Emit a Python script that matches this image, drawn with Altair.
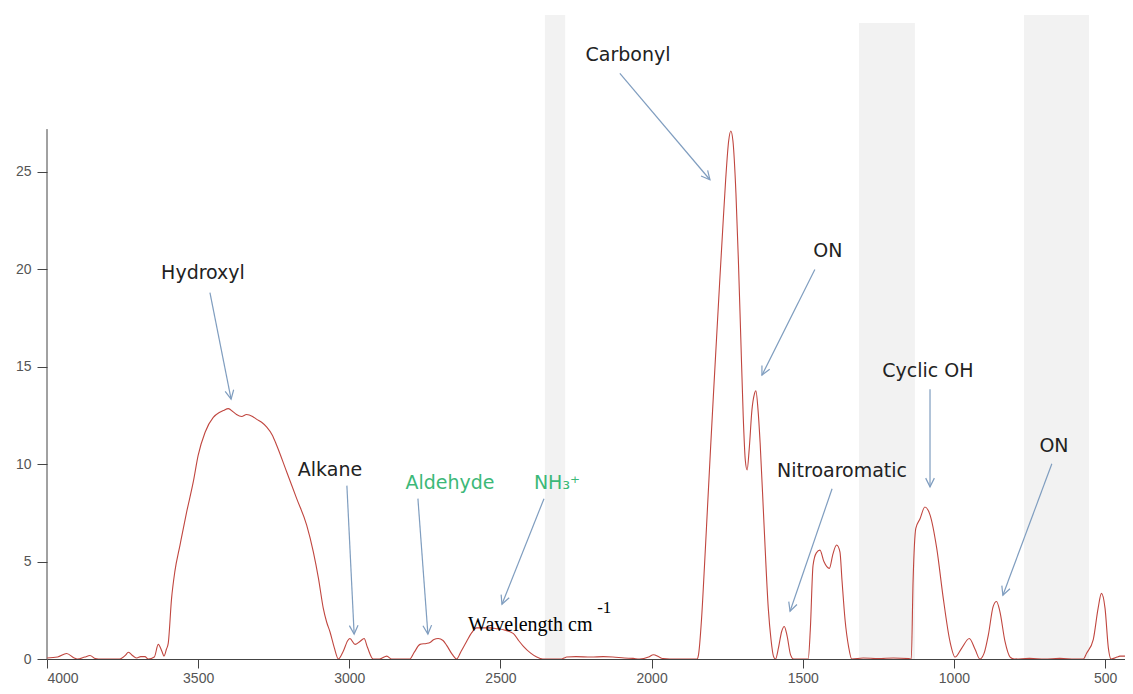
import math
import altair as alt
import pandas as pd

# ---------------- data ----------------
wavenumber = [
    4000, 3965, 3935, 3910, 3900, 3875, 3858, 3840, 3830, 3760, 3740, 3731, 3715, 3703,
    3690, 3676, 3665, 3645, 3632, 3620, 3613, 3605, 3599, 3588, 3577, 3560, 3538, 3516,
    3500, 3477, 3450, 3430, 3417, 3400, 3385, 3373, 3356, 3340, 3320, 3306, 3290, 3273,
    3255, 3240, 3207, 3174, 3141, 3119, 3102, 3086, 3075, 3064, 3050, 3036, 3020, 3005,
    2998, 2981, 2965, 2951, 2940, 2921, 2900, 2876, 2860, 2800, 2785, 2766, 2745, 2733,
    2720, 2706, 2690, 2678, 2660, 2645, 2630, 2612, 2595, 2579, 2555, 2534, 2510, 2490,
    2457, 2440, 2424, 2400, 2380, 2360, 2300, 2290, 2281, 2250, 2200, 2160, 2128, 2090,
    2061, 2040, 2010, 1994, 1975, 1962, 1940, 1850, 1845, 1835, 1825, 1815, 1805, 1795,
    1785, 1775, 1765, 1755, 1745, 1738, 1731, 1721, 1713, 1705, 1697, 1690, 1684, 1677,
    1668, 1660, 1655, 1648, 1641, 1628, 1614, 1605, 1597, 1590, 1580, 1570, 1561, 1552,
    1540, 1530, 1482, 1475, 1466, 1455, 1443, 1430, 1412, 1400, 1388, 1377, 1370, 1360,
    1348, 1338, 1300, 1250, 1200, 1150, 1141, 1135, 1126, 1112, 1096, 1079, 1057, 1035,
    1013, 996, 974, 949, 930, 914, 900, 886, 870, 859, 848, 831, 814, 800, 750, 700,
    650, 600, 572, 561, 539, 523, 512, 500, 489, 480, 460, 451, 430,
]
absorbance = [
    0.05, 0.1, 0.28, 0.05, 0.0, 0.1, 0.18, 0.02, 0.0, 0.0, 0.2, 0.35, 0.15, 0.05,
    0.12, 0.12, 0.0, 0.1, 0.75, 0.4, 0.15, 0.5, 0.8, 3.1, 4.5, 5.85, 7.55, 9.1,
    10.45, 11.64, 12.4, 12.65, 12.75, 12.85, 12.7, 12.55, 12.45, 12.55, 12.45, 12.3, 12.15, 11.9,
    11.5, 10.96, 9.6, 8.23, 6.87, 5.5, 4.14, 2.6, 1.9, 1.4, 0.6, 0.0, 0.4, 0.95,
    1.05, 0.75, 0.9, 1.05, 0.6, 0.0, 0.0, 0.15, 0.0, 0.0, 0.35, 0.75, 0.8, 0.85,
    1.0, 1.05, 0.95, 0.7, 0.25, 0.0, 0.4, 0.9, 1.35, 1.6, 1.6, 1.6, 1.55, 1.5,
    1.3, 0.95, 0.65, 0.3, 0.1, 0.0, 0.0, 0.05, 0.1, 0.12, 0.1, 0.12, 0.1, 0.05,
    0.03, 0.0, 0.1, 0.22, 0.1, 0.02, 0.0, 0.0, 0.2, 2.0, 4.8, 7.8, 10.8, 13.7,
    16.5, 19.3, 22.0, 24.6, 26.6, 27.1, 26.6, 23.9, 20.5, 16.5, 12.5, 10.2, 9.7, 10.8,
    12.8, 13.6, 13.77, 12.8, 11.1, 6.87, 2.6, 1.0, 0.15, 0.0, 0.6, 1.4, 1.67, 1.2,
    0.2, 0.0, 0.0, 1.5, 4.8, 5.45, 5.59, 5.0, 4.65, 5.4, 5.85, 5.5, 4.0, 2.0,
    0.6, 0.0, 0.05, 0.02, 0.05, 0.02, 0.0, 4.0, 6.7, 7.2, 7.8, 7.4, 5.7, 3.1,
    0.9, 0.1, 0.56, 1.05, 0.5, 0.0, 0.3, 1.24, 2.7, 2.95, 2.45, 0.9, 0.1, 0.0, 0.03, 0.0,
    0.03, 0.0, 0.0, 0.3, 1.0, 2.6, 3.37, 2.6, 0.56, 0.0, 0.1, 0.15, 0.15,
]

x_ticks = [4000, 3500, 3000, 2500, 2000, 1500, 1000, 500]
y_ticks = [0, 5, 10, 15, 20, 25]

band_start = [2353, 1314, 768]
band_end = [2286, 1129, 553]
band_top = [33.06, 32.65, 33.06]

ann_text = ["Hydroxyl", "Alkane", "Aldehyde", "NH\u2083\u207a", "Carbonyl", "ON",
            "Nitroaromatic", "Cyclic OH", "ON"]
ann_x = [3484, 3064, 2667, 2313, 2078, 1417, 1370, 1086, 669]
ann_y = [19.79, 9.71, 9.05, 9.05, 30.98, 20.96, 9.66, 14.77, 10.94]
ann_color = ["#222222", "#222222", "#3cb878", "#3cb878", "#222222", "#222222",
             "#222222", "#222222", "#222222"]

arrow_x1 = [3461, 3008, 2773, 2356, 2105, 1460, 1403, 1079, 676]
arrow_y1 = [18.81, 8.9, 8.23, 8.23, 30.06, 19.99, 8.74, 13.85, 10.02]
arrow_x2 = [3391, 2984, 2740, 2495, 1807, 1635, 1542, 1079, 838]
arrow_y2 = [13.34, 1.28, 1.28, 2.81, 24.6, 14.57, 2.45, 8.84, 3.27]

axis_title = "Wavelength cm"
axis_title_sup = "-1"
title_x, title_y = 2607, 1.45
sup_x, sup_y = 2180, 2.35

# ---------------- layout ----------------
X_MIN, X_MAX = 434, 4000
Y_MAX = 33.16
W, H = 1078, 646
kx = W / (X_MAX - X_MIN)
ky = H / Y_MAX

xscale = alt.Scale(domain=[X_MIN, X_MAX], reverse=True, nice=False, zero=False)
yscale = alt.Scale(domain=[0, Y_MAX], nice=False, zero=True)

spec_df = pd.DataFrame({"wn": wavenumber, "abs": absorbance})
band_df = pd.DataFrame({"x1": band_start, "x2": band_end, "top": band_top})
ann_df = pd.DataFrame({"t": ann_text, "x": ann_x, "y": ann_y, "c": ann_color})
angles = []
for a, b, c, d in zip(arrow_x1, arrow_y1, arrow_x2, arrow_y2):
    dxp = -(c - a) * kx
    dyp = -(d - b) * ky
    angles.append(math.degrees(math.atan2(-dxp, dyp)) % 360)
arrow_df = pd.DataFrame({"x1": arrow_x1, "y1": arrow_y1, "x2": arrow_x2,
                         "y2": arrow_y2, "ang": angles})

AX_COLOR = "#444444"
LBL_COLOR = "#555555"

bands = alt.Chart(band_df).mark_rect(color="#f2f2f2").encode(
    x=alt.X("x1:Q", scale=xscale,
            axis=alt.Axis(values=x_ticks, format="d", grid=False, title=None,
                          domainColor=AX_COLOR, tickColor=AX_COLOR, tickSize=9,
                          labelFont="Liberation Sans", labelFontSize=14,
                          labelColor=LBL_COLOR, labelPadding=3)),
    x2="x2:Q",
    y=alt.Y("top:Q", scale=yscale,
            axis=alt.Axis(values=y_ticks, grid=False, title=None, domain=False,
                          tickColor=AX_COLOR, tickSize=10,
                          labelFont="Liberation Sans", labelFontSize=14,
                          labelColor=LBL_COLOR, labelPadding=6)),
    y2=alt.datum(0),
)

yaxis_line = alt.Chart(pd.DataFrame({"x": [X_MAX], "y1": [0], "y2": [27.2]})).mark_rule(
    color=AX_COLOR, strokeWidth=1).encode(
    x=alt.X("x:Q", scale=xscale), y=alt.Y("y1:Q", scale=yscale), y2="y2:Q")

line = alt.Chart(spec_df).mark_line(color="#c0463f", strokeWidth=1.1,
                                    interpolate="monotone", clip=True).encode(
    x=alt.X("wn:Q", scale=xscale), y=alt.Y("abs:Q", scale=yscale), order="wn_order:Q"
).transform_calculate(wn_order="-datum.wn")

arrows = alt.Chart(arrow_df).mark_rule(color="#7f9dbf", strokeWidth=1.2).encode(
    x=alt.X("x1:Q", scale=xscale), y=alt.Y("y1:Q", scale=yscale), x2="x2:Q", y2="y2:Q")

heads = alt.Chart(arrow_df).mark_point(
    shape="M -0.5 -1 L 0 0 L 0.5 -1", filled=False, color="#7f9dbf",
    strokeWidth=1.2, size=300, opacity=1).encode(
    x=alt.X("x2:Q", scale=xscale), y=alt.Y("y2:Q", scale=yscale),
    angle=alt.Angle("ang:Q", scale=None))

labels = alt.Chart(ann_df).mark_text(font="DejaVu Sans", fontSize=19,
                                     align="center", baseline="middle").encode(
    x=alt.X("x:Q", scale=xscale), y=alt.Y("y:Q", scale=yscale),
    text="t:N", color=alt.Color("c:N", scale=None))

title_df = pd.DataFrame({"t": [axis_title], "x": [title_x], "y": [title_y]})
sup_df = pd.DataFrame({"t": [axis_title_sup], "x": [sup_x], "y": [sup_y]})
title_txt = alt.Chart(title_df).mark_text(font="Liberation Serif", fontSize=20,
                                          align="left", baseline="alphabetic",
                                          color="#000000").encode(
    x=alt.X("x:Q", scale=xscale), y=alt.Y("y:Q", scale=yscale), text="t:N")
sup_txt = alt.Chart(sup_df).mark_text(font="Liberation Serif", fontSize=17,
                                      align="left", baseline="alphabetic",
                                      color="#000000").encode(
    x=alt.X("x:Q", scale=xscale), y=alt.Y("y:Q", scale=yscale), text="t:N")

chart = alt.layer(bands, yaxis_line, line, arrows, heads, labels, title_txt, sup_txt).properties(
    width=W, height=H,
    background="white",
    autosize=alt.AutoSizeParams(type="none"),
    padding={"left": 39, "top": 5, "right": 0, "bottom": 27},
).configure_view(stroke="transparent", strokeWidth=0)

chart.save("out.html", embed_options={"renderer": "svg", "actions": False})
